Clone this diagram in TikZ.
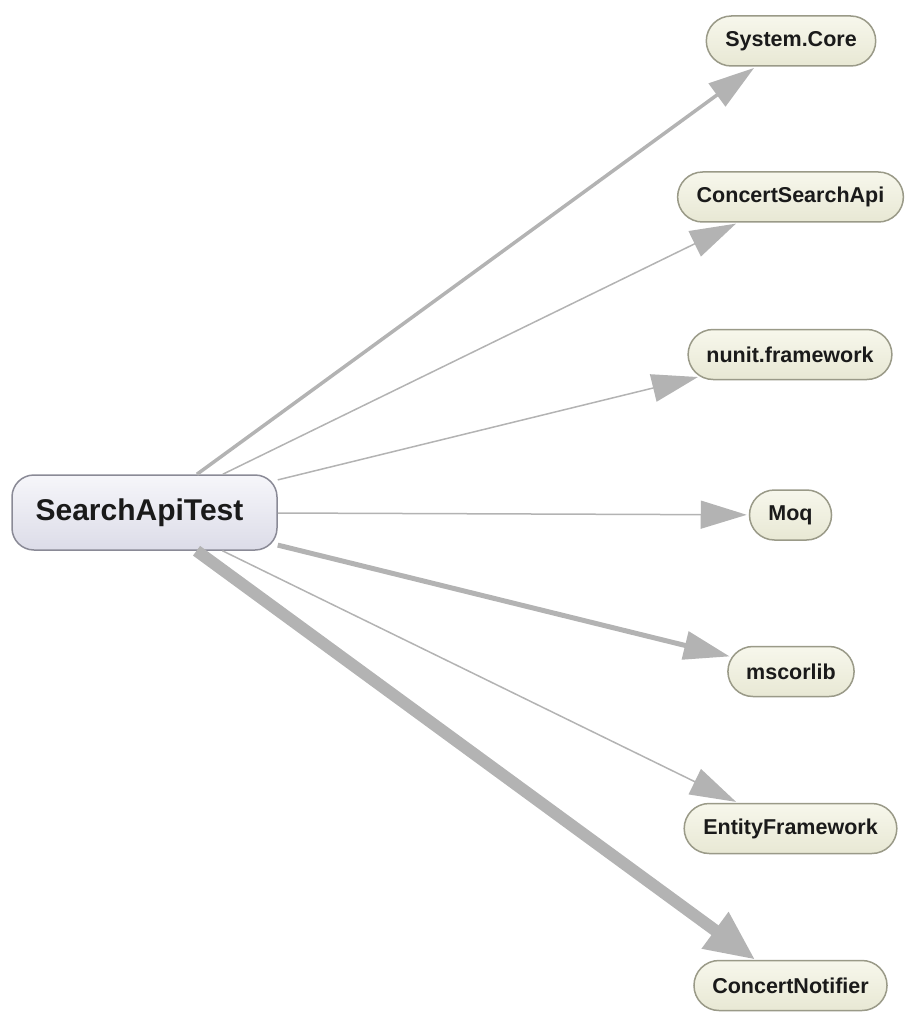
\documentclass[tikz,border=0pt]{standalone}
\usepackage{fontspec}
\setmainfont{Liberation Sans}
\usetikzlibrary{shapes.misc,arrows.meta}
\definecolor{edgecol}{HTML}{B3B3B3}
\definecolor{depborder}{HTML}{9A9A88}
\definecolor{deptop}{HTML}{F7F7EC}
\definecolor{depbot}{HTML}{E8E8D4}
\definecolor{maintop}{HTML}{F6F6FA}
\definecolor{mainbot}{HTML}{DCDCE8}
\definecolor{mainborder}{HTML}{8A8A96}
\definecolor{txt}{HTML}{1A1A1A}
\tikzset{
  x=1pt,y=-1pt,
  dep/.style={rounded rectangle, draw=depborder, line width=1.5pt, top color=deptop, bottom color=depbot,
    minimum height=50pt, inner xsep=17pt, font=\bfseries\fontsize{21.5}{23}\selectfont, text=txt},
  mainnode/.style={rectangle, rounded corners=22pt, draw=mainborder, line width=1.5pt, top color=maintop, bottom color=mainbot,
    minimum height=75pt, minimum width=265pt, font=\bfseries\fontsize{30}{32}\selectfont, text=txt},
  dedge/.style={draw=edgecol, -{Triangle[length=46pt,width=28pt]}, shorten >=2pt},
}
\begin{document}
\begin{tikzpicture}
\useasboundingbox (0,0) rectangle (916,1024);
\node[mainnode] (main) at (144.5,512.5) {\hspace*{-10pt}SearchApiTest};
\node[dep] (sc) at (791,41) {System.Core};
\node[dep] (csa) at (790.5,197) {ConcertSearchApi};
\node[dep] (nf) at (790,354.5) {nunit.framework};
\node[dep] (moq) at (790.5,515) {Moq};
\node[dep] (ms) at (791,671.5) {mscorlib};
\node[dep] (ef) at (790.5,828.5) {EntityFramework};
\node[dep] (cn) at (790.5,985.5) {ConcertNotifier};
\draw[dedge, line width=3.5pt] (main) -- (sc);
\draw[dedge, line width=1.5pt] (main) -- (csa);
\draw[dedge, line width=1.5pt] (main) -- (nf);
\draw[dedge, line width=1.5pt] (main) -- (moq);
\draw[dedge, line width=5pt] (main) -- (ms);
\draw[dedge, line width=1.5pt] (main) -- (ef);
\draw[draw=edgecol, line width=12pt, -{Triangle[length=50pt,width=42pt]}] (main) -- (cn);
\end{tikzpicture}
\end{document}
